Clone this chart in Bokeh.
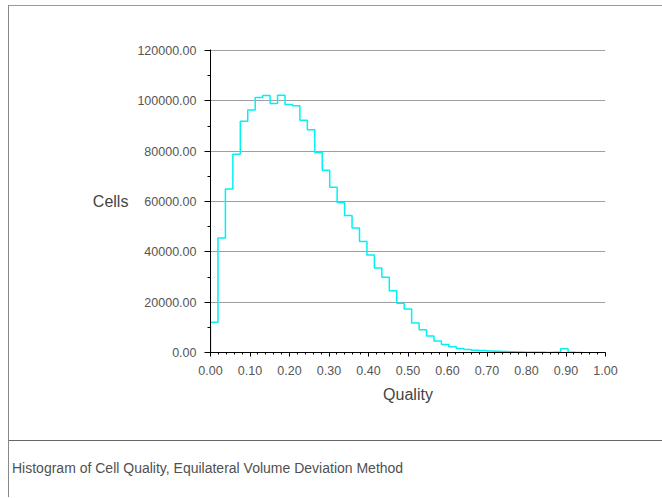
import numpy as np
from bokeh.plotting import figure
from bokeh.models import Range1d, SingleIntervalTicker, NumeralTickFormatter, Div
from bokeh.layouts import column
from bokeh.embed import file_html
from bokeh.resources import INLINE

# ---- data ----
q_min = 0.0
q_max = 0.943
counts = [12000, 45500, 65000, 78800, 91900, 96400, 101300, 102100, 98900, 102200,
          98500, 98000, 92300, 88500, 79500, 72400, 65700, 59600, 54400, 49500,
          44100, 38700, 33600, 29900, 24500, 19600, 17300, 11700, 9000, 6600,
          4600, 3200, 2300, 1600, 1200, 900, 750, 550, 450, 350,
          250, 150, 100, 70, 50, 40, 50, 1450, 60, 30]
x_label = "Quality"
y_label = "Cells"
caption = "Histogram of Cell Quality, Equilateral Volume Deviation Method"

edges = np.linspace(q_min, q_max, len(counts) + 1)
xs = np.repeat(edges, 2)
ys = np.concatenate([[0], np.repeat(counts, 2), [0]])

p = figure(frame_width=395, frame_height=303,
           min_border_left=201, min_border_right=57,
           min_border_top=43, min_border_bottom=88,
           x_range=Range1d(0, 1), y_range=Range1d(0, 120400),
           output_backend="svg", toolbar_location=None)
p.outline_line_color = None
p.background_fill_color = "white"
p.border_fill_color = "white"

p.line(xs, ys, line_color="#00f2f2", line_width=1.5)

p.xaxis.ticker = SingleIntervalTicker(interval=0.1, num_minor_ticks=5)
p.yaxis.ticker = SingleIntervalTicker(interval=20000, num_minor_ticks=2)
p.xaxis.formatter = NumeralTickFormatter(format="0.00")
p.yaxis.formatter = NumeralTickFormatter(format="0.00")

for ax in (p.xaxis, p.yaxis):
    ax.axis_line_color = "black"
    ax.major_tick_line_color = "black"
    ax.minor_tick_line_color = "black"
    ax.major_tick_in = 0
    ax.minor_tick_in = 0
    ax.major_label_text_font = "Liberation Sans"
    ax.major_label_text_font_size = "12.5px"
    ax.major_label_text_color = "#555555"
    ax.axis_label_text_font = "Liberation Sans"
    ax.axis_label_text_font_size = "16px"
    ax.axis_label_text_font_style = "normal"
    ax.axis_label_text_color = "#444444"

p.xaxis.major_tick_out = 4
p.xaxis.minor_tick_out = 2
p.xaxis.major_label_standoff = 9
p.xaxis.axis_label = x_label
p.xaxis.axis_label_standoff = 8

p.yaxis.major_tick_out = 6
p.yaxis.minor_tick_out = 3
p.yaxis.major_label_standoff = 8
p.yaxis.axis_label = y_label
p.yaxis.axis_label_orientation = "horizontal"
p.yaxis.axis_label_standoff = 6

p.xgrid.visible = False
p.ygrid.grid_line_color = "#a0a0a0"
p.ygrid.grid_line_width = 1

cap = Div(text=caption, width=653, height=57, margin=0,
          styles={"border-top": "1px solid #666666",
                  "font-family": "Liberation Sans",
                  "font-size": "14px",
                  "color": "#505050",
                  "padding-left": "3px",
                  "padding-top": "20px",
                  "line-height": "15px",
                  "box-sizing": "border-box"})

layout = column(p, cap, styles={"border-left": "1px solid #888888",
                                "border-top": "1px solid #999999",
                                "margin-top": "5px",
                                "margin-left": "8px"})

open("out.html", "w").write(file_html(layout, INLINE))
